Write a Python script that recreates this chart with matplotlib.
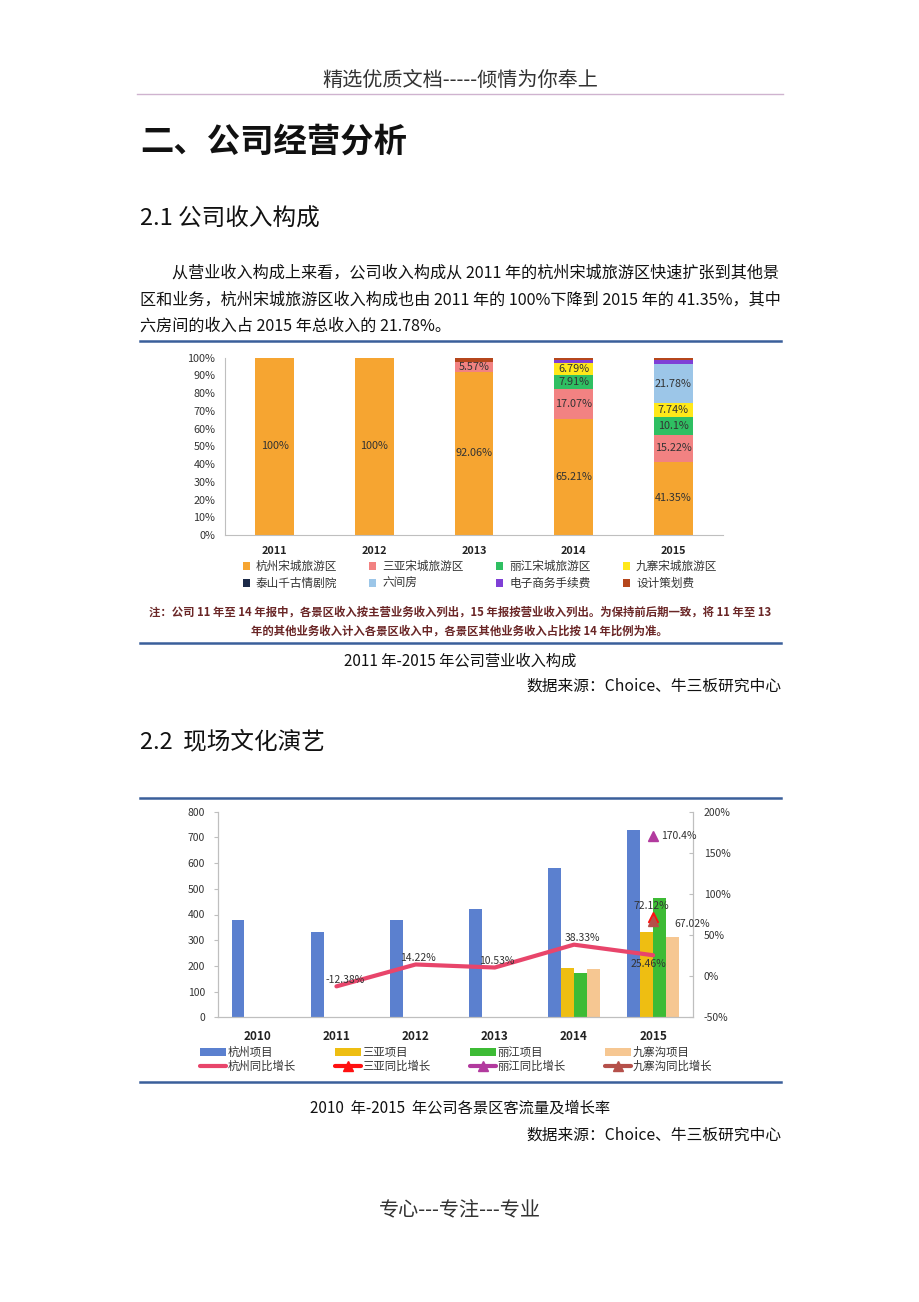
import numpy as np
import matplotlib
matplotlib.use("Agg")
from matplotlib import pyplot as plt
from matplotlib.lines import Line2D

plt.rcParams['font.family'] = ['Noto Sans CJK SC', 'DejaVu Sans']
plt.rcParams['axes.unicode_minus'] = False

W, H = 920, 1302

# ---- chart 1: revenue composition (%) ----
rev_years = ['2011', '2012', '2013', '2014', '2015']
rev_names = ['杭州宋城旅游区', '三亚宋城旅游区', '丽江宋城旅游区', '九寨宋城旅游区',
             '泰山千古情剧院', '六间房', '电子商务手续费', '设计策划费']
rev_hangzhou = [100, 100, 92.06, 65.21, 41.35]
rev_sanya = [0, 0, 5.57, 17.07, 15.22]
rev_lijiang = [0, 0, 0, 7.91, 10.1]
rev_jiuzhai = [0, 0, 0, 6.79, 7.74]
rev_taishan = [0, 0, 0, 0, 0]
rev_liujianfang = [0, 0, 0, 0, 21.78]
rev_ecommerce = [0, 0, 0, 1.9, 2.6]
rev_design = [0, 0, 2.37, 1.12, 1.21]
rev_colors = ['#F6A531', '#F28282', '#2FBF62', '#FFE81A',
              '#1C2A48', '#9CC6E8', '#7F3FD6', '#B5461C']

# ---- chart 2: visitor flow and growth ----
flow_years = ['2010', '2011', '2012', '2013', '2014', '2015']
flow_names = ['杭州项目', '三亚项目', '丽江项目', '九寨沟项目']
flow_hangzhou = [379, 332, 380, 420, 580, 728]
flow_sanya = [0, 0, 0, 0, 191, 330]
flow_lijiang = [0, 0, 0, 0, 171, 466]
flow_jiuzhai = [0, 0, 0, 0, 187, 314]
flow_colors = ['#5B80CF', '#EEBE12', '#3DBB35', '#F6C792']

growth_names = ['杭州同比增长', '三亚同比增长', '丽江同比增长', '九寨沟同比增长']
nan = np.nan
growth_hangzhou = [nan, -12.38, 14.22, 10.53, 38.33, 25.46]
growth_sanya = [nan, nan, nan, nan, nan, 72.12]
growth_lijiang = [nan, nan, nan, nan, nan, 170.4]
growth_jiuzhai = [nan, nan, nan, nan, nan, 67.02]
growth_colors = ['#E8456B', '#FF1010', '#B23A9E', '#B5504A']


def _box(left, top, right, bottom):
    return [left / W, 1 - bottom / H, (right - left) / W, (bottom - top) / H]


def _fx(x):
    return x / W


def _fy(y):
    return 1 - y / H


def _hline(fig, y, x0, x1, color, lw):
    fig.add_artist(Line2D([_fx(x0), _fx(x1)], [_fy(y), _fy(y)],
                          transform=fig.transFigure, color=color, lw=lw))


fig = plt.figure(figsize=(W / 100, H / 100), dpi=100)
fig.patch.set_facecolor('white')

# ---- page text ----
fig.text(_fx(460), _fy(80), '精选优质文档-----倾情为你奉上', ha='center', va='center',
         fontsize=14.5, color='#333333', fontweight='light')
_hline(fig, 94, 137, 783, '#CFB3CF', 1)

fig.text(_fx(140), _fy(142), '二、公司经营分析', ha='left', va='center',
         fontsize=24, fontweight='bold', color='#111111')
fig.text(_fx(140), _fy(219), '2.1 公司收入构成', ha='left', va='center',
         fontsize=17, fontweight='medium', color='#111111')

para = ['从营业收入构成上来看，公司收入构成从 2011 年的杭州宋城旅游区快速扩张到其他景',
        '区和业务，杭州宋城旅游区收入构成也由 2011 年的 100%下降到 2015 年的 41.35%，其中',
        '六房间的收入占 2015 年总收入的 21.78%。']
para_x = [172, 140, 140]
para_y = [273, 300, 326]
for t, x, y in zip(para, para_x, para_y):
    fig.text(_fx(x), _fy(y), t, ha='left', va='center', fontsize=11.6, color='#111111')

_hline(fig, 341, 140, 781, '#3A5F9A', 1.8)
_hline(fig, 643, 140, 781, '#3A5F9A', 1.8)

# ---- chart 1 ----
ax1 = fig.add_axes(_box(225, 357.7, 723, 535))
rev_series = [rev_hangzhou, rev_sanya, rev_lijiang, rev_jiuzhai,
              rev_taishan, rev_liujianfang, rev_ecommerce, rev_design]
x1 = np.arange(len(rev_years))
bottom = np.zeros(len(rev_years))
for vals, name, col in zip(rev_series, rev_names, rev_colors):
    vals = np.array(vals, dtype=float)
    bars = ax1.bar(x1, vals, 0.39, bottom=bottom, color=col, label=name, linewidth=0)
    for b, v, btm in zip(bars, vals, bottom):
        if v >= 5:
            ax1.text(b.get_x() + b.get_width() / 2, btm + v / 2, f"{v:g}%",
                     ha='center', va='center', fontsize=7.8, color='#333333')
    bottom += vals

ax1.set_xlim(-0.5, 4.5)
ax1.set_ylim(0, 100)
ax1.set_yticks(np.arange(0, 101, 10))
ax1.yaxis.set_major_formatter(lambda v, p: f"{v:.0f}%")
ax1.set_xticks(x1, rev_years, fontweight='bold')
for s in ['top', 'right']:
    ax1.spines[s].set_visible(False)
for s in ['left', 'bottom']:
    ax1.spines[s].set_color('#BFBFBF')
ax1.tick_params(axis='y', length=0, pad=7, labelsize=7.8, labelcolor='#333333')
ax1.tick_params(axis='x', length=0, pad=8, labelsize=7.8, labelcolor='#222222')

h, l = ax1.get_legend_handles_labels()
order = [0, 4, 1, 5, 2, 6, 3, 7]
fig.legend([h[i] for i in order], [l[i] for i in order], ncol=4, loc='center',
           bbox_to_anchor=(_fx(480), _fy(575)), frameon=False, fontsize=8.4,
           handlelength=0.6, handleheight=0.6, handletextpad=0.5,
           columnspacing=2.8, labelspacing=0.35, labelcolor='#333333')

note1 = '注：公司 11 年至 14 年报中，各景区收入按主营业务收入列出，15 年报按营业收入列出。为保持前后期一致，将 11 年至 13'
note2 = '年的其他业务收入计入各景区收入中，各景区其他业务收入占比按 14 年比例为准。'
fig.text(_fx(460), _fy(612), note1, ha='center', va='center', fontsize=8.2,
         fontweight='bold', color='#6A2626')
fig.text(_fx(459), _fy(631), note2, ha='center', va='center', fontsize=8.2,
         fontweight='bold', color='#6A2626')

fig.text(_fx(460), _fy(661), '2011 年-2015 年公司营业收入构成', ha='center', va='center',
         fontsize=11, color='#111111')
fig.text(_fx(782), _fy(686), '数据来源：Choice、牛三板研究中心', ha='right', va='center',
         fontsize=11.3, color='#111111', style='italic')

fig.text(_fx(140), _fy(742), '2.2  现场文化演艺', ha='left', va='center',
         fontsize=17, fontweight='medium', color='#111111')

_hline(fig, 798, 140, 781, '#3A5F9A', 1.8)
_hline(fig, 1082, 140, 781, '#3A5F9A', 1.8)

# ---- chart 2 ----
ax2 = fig.add_axes(_box(217.7, 811.7, 692.7, 1017.3))
x2 = np.arange(len(flow_years))
bw = 0.162
flow_series = [flow_hangzhou, flow_sanya, flow_lijiang, flow_jiuzhai]
for i, (vals, name, col) in enumerate(zip(flow_series, flow_names, flow_colors)):
    ax2.bar(x2 + (i - 1.5) * bw, vals, bw, color=col, label=name, linewidth=0)
ax2.set_xlim(-0.5, 5.5)
ax2.set_ylim(0, 800)
ax2.set_yticks(np.arange(0, 801, 100))
ax2.set_xticks(x2, flow_years, fontweight='bold')
ax2.spines['top'].set_visible(False)
for s in ['left', 'bottom', 'right']:
    ax2.spines[s].set_color('#BFBFBF')
ax2.tick_params(axis='y', length=3, color='#BFBFBF', pad=6, labelsize=7.5, labelcolor='#333333')
ax2.tick_params(axis='x', length=0, pad=9, labelsize=8.5, labelcolor='#222222')

ax2r = ax2.twinx()
ax2r.set_ylim(-50, 200)
ax2r.set_yticks(np.arange(-50, 201, 50))
ax2r.yaxis.set_major_formatter(lambda v, p: f"{v:.0f}%")
ax2r.spines['top'].set_visible(False)
for s in ['left', 'bottom', 'right']:
    ax2r.spines[s].set_color('#BFBFBF')
ax2r.tick_params(axis='y', length=3, color='#BFBFBF', direction='in', pad=8,
                 labelsize=7.5, labelcolor='#333333')

growth_series = [growth_hangzhou, growth_sanya, growth_lijiang, growth_jiuzhai]
growth_markers = [None, '^', '^', '^']
for vals, name, col, mk in zip(growth_series, growth_names, growth_colors, growth_markers):
    ax2r.plot(x2, vals, color=col, lw=3, marker=mk, ms=7, label=name,
              solid_capstyle='round')

# data labels (offsets in points)
lab_style = dict(textcoords='offset points', fontsize=7.5, color='#333333', va='center')
hz_offsets = [None, (6, 4.5), (1.5, 4.5), (1.5, 5), (6, 5), (-3.5, -6)]
for xi, v, off in zip(x2, growth_hangzhou, hz_offsets):
    if off is not None and not np.isnan(v):
        ax2r.annotate(f"{v:g}%", (xi, v), xytext=off, ha='center', **lab_style)
ax2r.annotate(f"{growth_sanya[-1]:g}%", (x2[-1], growth_sanya[-1]), xytext=(-1.5, 8),
              ha='center', **lab_style)
ax2r.annotate(f"{growth_lijiang[-1]:g}%", (x2[-1], growth_lijiang[-1]), xytext=(6, 0),
              ha='left', **lab_style)
ax2r.annotate(f"{growth_jiuzhai[-1]:g}%", (x2[-1], growth_jiuzhai[-1]), xytext=(15, -2),
              ha='left', **lab_style)

hb, lb = ax2.get_legend_handles_labels()
hl, ll = ax2r.get_legend_handles_labels()
hh = [hb[0], hl[0], hb[1], hl[1], hb[2], hl[2], hb[3], hl[3]]
labs = [lb[0], ll[0], lb[1], ll[1], lb[2], ll[2], lb[3], ll[3]]
fig.legend(hh, labs, ncol=4, loc='center', bbox_to_anchor=(_fx(456), _fy(1059.5)),
           frameon=False, fontsize=8.2, handlelength=2.3, handleheight=0.7,
           handletextpad=0.15, columnspacing=3.4, labelspacing=0.25,
           labelcolor='#333333')

fig.text(_fx(460), _fy(1108), '2010  年-2015  年公司各景区客流量及增长率', ha='center',
         va='center', fontsize=11, color='#111111')
fig.text(_fx(782), _fy(1135), '数据来源：Choice、牛三板研究中心', ha='right', va='center',
         fontsize=11.3, color='#111111', style='italic')

fig.text(_fx(460), _fy(1210), '专心---专注---专业', ha='center', va='center',
         fontsize=14.5, color='#333333', fontweight='light')

fig.savefig('out.png', dpi=100)
